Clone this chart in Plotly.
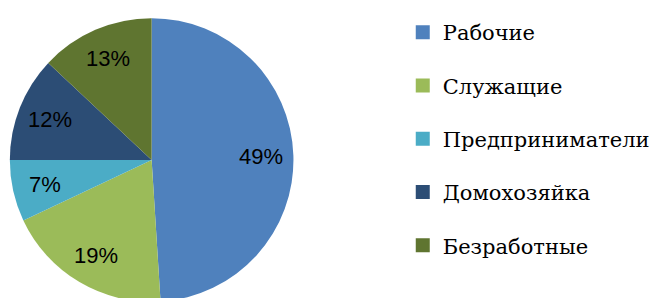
import math
import plotly.graph_objects as go

categories = ["Рабочие", "Служащие", "Предприниматели", "Домохозяйка", "Безработные"]
values = [49, 19, 7, 12, 13]
colors = ["#4F81BD", "#9BBB59", "#4BACC6", "#2C4D75", "#5F7530"]

W, H = 655, 310
CX, CY, R = 154, 160, 144  # pie centre and radius in pixels
LABEL_R = 0.77
SERIF = "DejaVu Serif"

fig = go.Figure()
fig.add_trace(go.Pie(
    labels=categories, values=values, sort=False, direction="clockwise", rotation=0,
    marker=dict(colors=colors, line=dict(width=0)),
    textinfo="none", showlegend=False, hoverinfo="label+percent",
    domain=dict(x=[(CX - R) / W, (CX + R) / W], y=[1 - (CY + R) / H, 1 - (CY - R) / H]),
))

total = sum(values)
cum = 0
for v in values:
    mid = (cum + v / 2) / total * 2 * math.pi
    cum += v
    px = CX + LABEL_R * R * math.sin(mid)
    py = CY - LABEL_R * R * math.cos(mid)
    fig.add_annotation(
        x=px / W, y=1 - py / H, xref="paper", yref="paper",
        text=f"{round(v / total * 100)}%", showarrow=False,
        font=dict(family="Liberation Sans", size=22, color="black"),
        xanchor="center", yanchor="middle",
    )

for name, col in zip(categories, colors):
    fig.add_trace(go.Scatter(
        x=[None], y=[None], mode="markers", name=name, legendgroup=name,
        marker=dict(symbol="square", size=14, color=col),
    ))

fig.update_layout(
    width=W, height=H, margin=dict(l=0, r=0, t=0, b=0),
    paper_bgcolor="white", plot_bgcolor="white",
    xaxis=dict(visible=False), yaxis=dict(visible=False),
    legend=dict(x=409 / W, y=1 - 12 / H, xanchor="left", yanchor="top",
                font=dict(family=SERIF, size=21, color="black"),
                tracegroupgap=23, itemsizing="trace"),
)
fig.write_html("out.html", config={"displayModeBar": False},
               post_script="document.body.style.margin='0';document.body.style.overflow='hidden';")
